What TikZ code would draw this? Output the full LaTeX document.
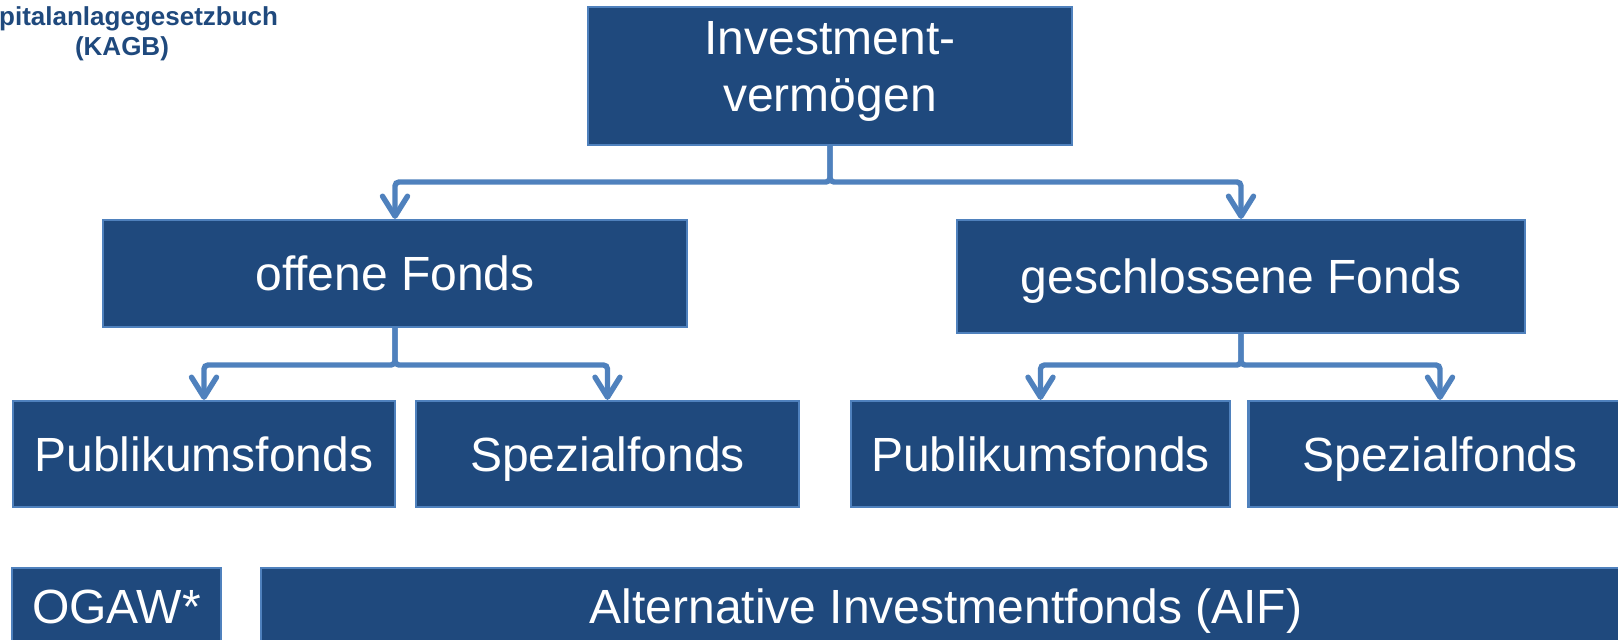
\documentclass[tikz,border=0pt]{standalone}
\usepackage{fontspec}
\setmainfont{Liberation Sans}
\usetikzlibrary{arrows.meta,positioning}
\definecolor{fondsblue}{HTML}{1F497D}
\definecolor{linkblue}{HTML}{4F81BD}

\begin{document}
\begin{tikzpicture}[x=0.5pt,y=-0.5pt,
    fondsbox/.style={draw=linkblue,fill=fondsblue,line width=1.1pt,text=white,
      font=\fontsize{24}{28.5}\selectfont,inner sep=0pt,align=center},
    fonds/.style={fondsbox,text height=17pt,text depth=0pt},
    link/.style={draw=linkblue,line width=2.7pt,rounded corners=2pt,
      -{Straight Barb[length=10pt,width=12.5pt,line cap=round,line join=round]}}]
  \clip (0,0) rectangle (1618,639);
  % Gesetz
  \node[font=\bfseries\fontsize{13}{15}\selectfont,text=fondsblue,align=center,inner sep=0pt]
    (kagb) at (122,34) {Kapitalanlagegesetzbuch\\(KAGB)};
  % Ebenen
  \node[fondsbox,minimum width=242pt,minimum height=69pt] (inv) at (830,76)
    {Investment-\\vermögen\rule[-10pt]{0pt}{10pt}};
  \node[fonds,minimum width=292pt,minimum height=53.5pt] (offen) at (395,273.5) {offene Fonds};
  \node[fonds,minimum width=284pt,minimum height=56.5pt] (geschl) at (1241,276.5) {geschlossene Fonds};
  \node[fonds,minimum width=191pt,minimum height=53pt] (pubA) at (204,454) {Publikumsfonds};
  \node[fonds,minimum width=191.5pt,minimum height=53pt] (spezA) at (607.5,454) {Spezialfonds};
  \node[fonds,minimum width=189.5pt,minimum height=53pt] (pubB) at (1040.5,454) {Publikumsfonds};
  \node[fonds,minimum width=191.5pt,minimum height=53pt] (spezB) at (1440,454) {Spezialfonds};
  \node[fonds,minimum width=104.5pt,minimum height=38pt] (ogaw) at (116.5,606) {OGAW*};
  \node[fonds,minimum width=685pt,minimum height=38pt] (aif) at (946,606) {Alternative Investmentfonds (AIF)};
  % Verbindungen
  \coordinate (topbar) at (0,182);
  \coordinate (subbar) at (0,365);
  \draw[link] (inv.south) |- (offen.north |- topbar) -- (offen.north);
  \draw[link] (inv.south) |- (geschl.north |- topbar) -- (geschl.north);
  \draw[link] (offen.south) |- (pubA.north |- subbar) -- (pubA.north);
  \draw[link] (offen.south) |- (spezA.north |- subbar) -- (spezA.north);
  \draw[link] (geschl.south) |- (pubB.north |- subbar) -- (pubB.north);
  \draw[link] (geschl.south) |- (spezB.north |- subbar) -- (spezB.north);
\end{tikzpicture}
\end{document}
